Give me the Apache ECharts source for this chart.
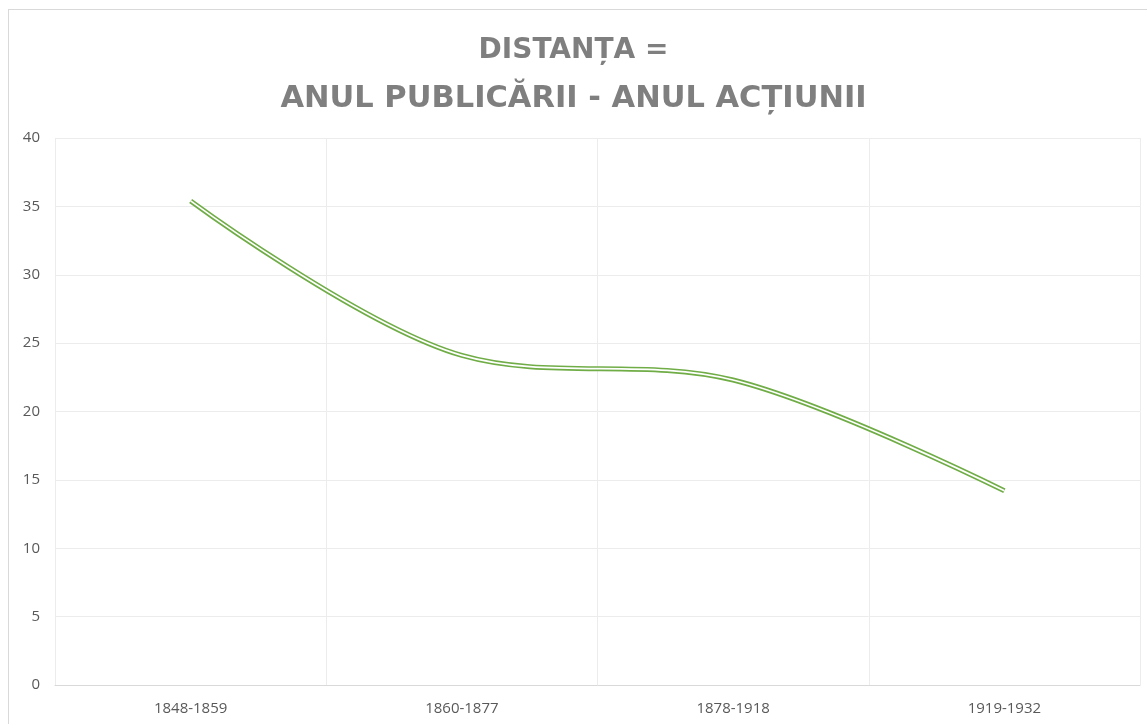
<!DOCTYPE html>
<html>
<head>
<meta charset="utf-8">
<script src="https://cdn.jsdelivr.net/npm/echarts@6/dist/echarts.min.js"></script>
<style>
  html, body { margin: 0; padding: 0; background: #fff; }
  #frame { position: absolute; left: 8px; top: 9px; width: 1139px; height: 715px;
           border-left: 1.5px solid #d9d9d9; border-top: 1.5px solid #d9d9d9; }
  #chart { position: absolute; left: 0; top: 0; width: 1147px; height: 724px; }
</style>
</head>
<body>
<div id="frame"></div>
<div id="chart"></div>
<script>
// perioade (anul acțiunii)
var periods = ['1848-1859', '1860-1877', '1878-1918', '1919-1932'];
// distanța medie în ani
var distance = [35.4, 24.1, 22.3, 14.2];
var titleLine1 = 'DISTANȚA =';
var titleLine2 = 'ANUL PUBLICĂRII - ANUL ACȚIUNII';

var myChart = echarts.init(document.getElementById('chart'), null, { renderer: 'canvas' });
var option = {
    animation: false,
    title: {
        text: '{a|' + titleLine1 + '}\n{b|' + titleLine2 + '}',
        left: 'center',
        top: 22,
        textStyle: {
            fontFamily: 'DejaVu Sans',
            fontWeight: 'bold',
            color: '#7f7f7f',
            rich: {
                a: { fontFamily: 'DejaVu Sans', fontWeight: 'bold', color: '#7f7f7f',
                     fontSize: 28, lineHeight: 48, align: 'center' },
                b: { fontFamily: 'DejaVu Sans', fontWeight: 'bold', color: '#7f7f7f',
                     fontSize: 30.5, lineHeight: 48, align: 'center' }
            }
        }
    },
    grid: {
        left: 55,
        right: 7,
        top: 138,
        bottom: 39
    },
    xAxis: {
        type: 'category',
        data: periods,
        boundaryGap: true,
        axisLine: { lineStyle: { color: '#d9d9d9', width: 1 } },
        axisTick: { show: false },
        axisLabel: { color: '#595959', fontSize: 15, fontFamily: 'Open Sans', margin: 16 },
        splitLine: { show: true, lineStyle: { color: '#ececec', width: 1 } }
    },
    yAxis: {
        type: 'value',
        min: 0,
        max: 40,
        interval: 5,
        axisLine: { show: false },
        axisTick: { show: false },
        axisLabel: { color: '#595959', fontSize: 15, fontFamily: 'Open Sans', margin: 15 },
        splitLine: { lineStyle: { color: '#ececec', width: 1 } }
    },
    series: [{
        name: 'outer',
        type: 'line',
        data: distance,
        smooth: 0.34,
        symbol: 'none',
        lineStyle: { color: '#70ad47', width: 5, cap: 'butt' },
        z: 2
    },
    {
        name: 'inner',
        type: 'line',
        data: distance,
        smooth: 0.34,
        symbol: 'none',
        lineStyle: { color: '#ffffff', width: 1.7, cap: 'butt' },
        z: 3
    }]
};
myChart.setOption(option);
</script>
</body>
</html>
